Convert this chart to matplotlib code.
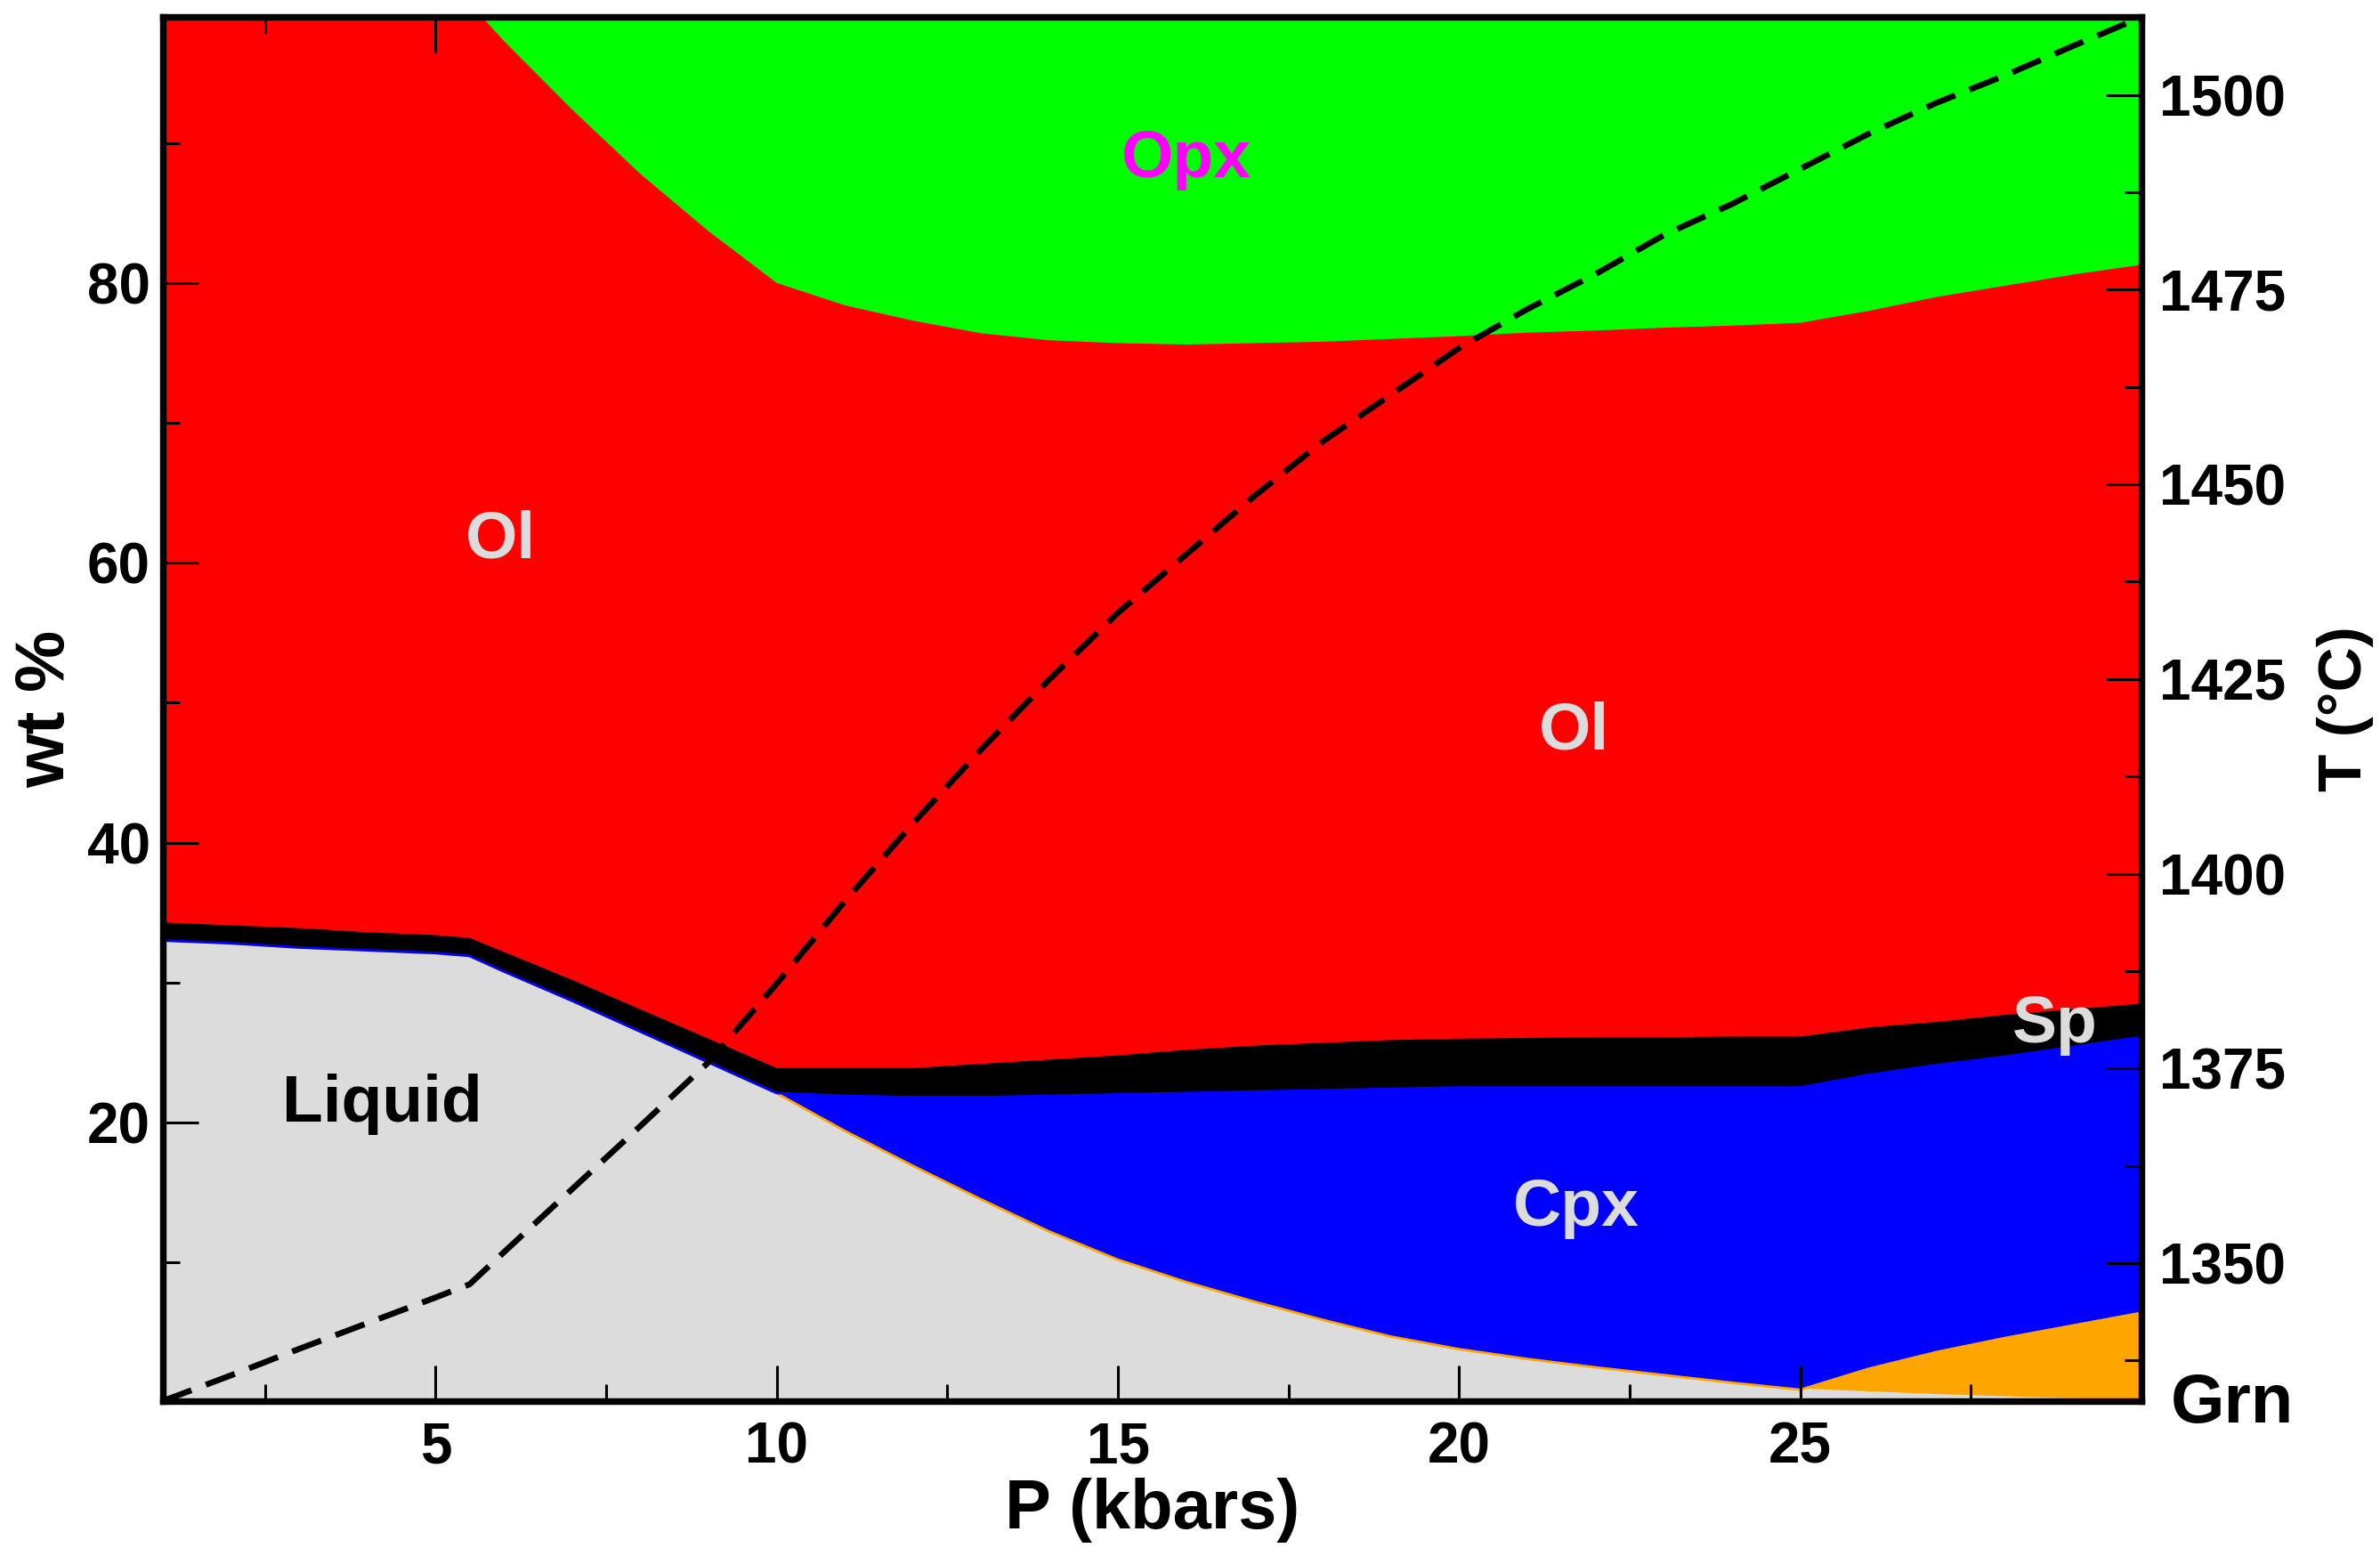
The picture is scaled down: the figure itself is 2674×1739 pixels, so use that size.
import numpy as np
import matplotlib
matplotlib.use("Agg")
import matplotlib.pyplot as plt
from matplotlib.ticker import MultipleLocator, FixedLocator

plt.rcParams['font.family'] = ['Liberation Sans', 'DejaVu Sans']
plt.rcParams['font.weight'] = 'bold'

# Pressure grid (kbar)
pressure = [1, 2, 3, 4, 5, 5.5, 6, 7, 8, 9, 10, 11, 12, 13, 14, 15, 16, 17, 18, 19,
            20, 21, 22, 23, 24, 25, 26, 27, 28, 29, 30]

# Phase proportions (wt %), stacked from bottom to top
liquid = [33.1, 32.9, 32.6, 32.4, 32.2, 32.0, 30.9, 28.8, 26.6, 24.4, 22.2, 19.5, 17.0,
          14.6, 12.3, 10.3, 8.7, 7.3, 6.0, 4.8, 3.9, 3.2, 2.6, 2.05, 1.5, 1.0, 0.8, 0.6,
          0.45, 0.3, 0.15]
garnet = [0, 0, 0, 0, 0, 0, 0, 0, 0, 0, 0, 0, 0, 0, 0, 0, 0, 0, 0, 0,
          0, 0, 0, 0, 0, 0, 1.7, 3.1, 4.25, 5.3, 6.35]
cpx = [0, 0, 0, 0, 0, 0, 0, 0, 0, 0, 0, 2.5, 4.9, 7.3, 9.7, 11.8, 13.5, 15.0, 16.4, 17.7,
       18.7, 19.4, 20.0, 20.55, 21.1, 21.6, 21.0, 20.5, 20.1, 19.9, 19.7]
spinel = [1.2, 1.2, 1.3, 1.2, 1.2, 1.2, 1.3, 1.4, 1.5, 1.6, 1.7, 1.9, 2.0, 2.3, 2.5, 2.7,
          3.0, 3.2, 3.3, 3.4, 3.4, 3.45, 3.5, 3.5, 3.55, 3.55, 3.3, 3.0, 2.9, 2.6, 2.3]
olivine = [65.7, 65.9, 66.1, 66.4, 66.6, 66.8, 65.1, 62.2, 59.7, 57.7, 56.1, 54.5, 53.4,
           52.2, 51.4, 50.9, 50.4, 50.2, 50.1, 50.1, 50.2, 50.4, 50.5, 50.7, 50.8, 51.0,
           51.2, 51.8, 52.1, 52.5, 52.8]
opx = [0, 0, 0, 0, 0, 0, 2.7, 7.6, 12.2, 16.3, 20.0, 21.6, 22.7, 23.6, 24.1, 24.3, 24.4,
       24.3, 24.2, 24.0, 23.8, 23.6, 23.4, 23.2, 23.0, 22.9, 22.0, 21.0, 20.2, 19.4, 18.7]

# Temperature along the path (deg C)
temperature = [1332.3, 1335.6, 1339.0, 1342.3, 1345.6, 1347.3, 1351.4, 1359.5, 1367.6,
               1375.8, 1385.9, 1396.5, 1406.5, 1416.0, 1425.0, 1433.5, 1441.0, 1448.5,
               1455.5, 1461.5, 1467.5, 1472.5, 1477.0, 1482.0, 1486.0, 1490.5, 1495.0,
               1499.0, 1502.5, 1506.3, 1510.0]

phases = [liquid, garnet, cpx, spinel, olivine, opx]
colors = ['#dcdcdc', '#ffa500', '#0000ff', '#000000', '#ff0000', '#00ff00']

fig = plt.figure(figsize=(13.37, 8.695), dpi=200)
ax = fig.add_axes([0.0683, 0.0949, 0.8315, 0.8941])

# Each layer: filled band, then its upper boundary line in the same colour;
# the next band covers the upper half of that line.
p = np.asarray(pressure, dtype=float)
base = np.zeros_like(p)
z = 1.0
for vals, c in zip(phases, colors):
    top = base + np.asarray(vals, dtype=float)
    ax.fill_between(p, base, top, facecolor=c, edgecolor='none', linewidth=0, zorder=z)
    ax.plot(p, top, color=c, linewidth=2.0, solid_joinstyle='round', zorder=z + 0.05)
    base = top
    z += 0.1

ax.set_xlim(1, 30)
ax.set_ylim(0.1, 99.0)

ax.xaxis.set_major_locator(FixedLocator([5, 10, 15, 20, 25]))
ax.xaxis.set_minor_locator(FixedLocator([2.5, 7.5, 12.5, 17.5, 22.5, 27.5]))
ax.yaxis.set_major_locator(FixedLocator([20, 40, 60, 80]))
ax.yaxis.set_minor_locator(FixedLocator([10, 30, 50, 70, 90]))

ax.tick_params(axis='both', which='both', direction='in', top=True, right=False,
               width=1.1, labelsize=23)
ax.tick_params(axis='both', which='major', length=14.5)
ax.tick_params(axis='both', which='minor', length=6.8)
ax.tick_params(axis='x', pad=8)
ax.tick_params(axis='y', pad=5)

for s in ax.spines.values():
    s.set_linewidth(2.6)
    s.set_zorder(5)

ax.set_xlabel('P (kbars)', fontsize=28, fontweight='bold')
ax.xaxis.set_label_coords(0.5, -0.079)
ax.xaxis.label.set_va('center')
ax.set_ylabel('wt %', fontsize=28, fontweight='bold')
ax.yaxis.set_label_coords(-0.059, 0.5)
ax.yaxis.label.set_va('center')

# Temperature on the right-hand axis
ax2 = ax.twinx()
ax2.plot(p, temperature, color='black', linewidth=2.4, linestyle=(0, (5.2, 2.6)))
ax2.set_ylim(1332.3, 1510.0)
ax2.yaxis.set_major_locator(MultipleLocator(25))
ax2.yaxis.set_minor_locator(MultipleLocator(12.5))
ax2.tick_params(axis='y', which='both', direction='in', width=1.1, labelsize=23, pad=7)
ax2.tick_params(axis='y', which='major', length=14.5)
ax2.tick_params(axis='y', which='minor', length=6.8)
for s in ax2.spines.values():
    s.set_linewidth(2.6)
ax2.set_ylabel('T (°C)', fontsize=25, fontweight='bold')
ax2.yaxis.set_label_coords(1.103, 0.5)
ax2.yaxis.label.set_va('center')

# Phase field labels
lab = dict(fontsize=27, fontweight='bold', ha='center', va='center')
ax2.text(5.96, 61.6, 'Ol', color='#dcdcdc', transform=ax.transData, **lab)
ax2.text(21.69, 47.9, 'Ol', color='#dcdcdc', transform=ax.transData, **lab)
ax2.text(16.0, 88.8, 'Opx', color='#ff00ff', transform=ax.transData, **lab)
ax2.text(4.22, 21.3, 'Liquid', color='black', transform=ax.transData, **lab)
ax2.text(21.71, 13.9, 'Cpx', color='#dcdcdc', transform=ax.transData, **lab)
ax2.text(28.73, 27.0, 'Sp', color='#dcdcdc', transform=ax.transData, **lab)
ax2.text(31.33, -0.1, 'Grn', color='black', transform=ax.transData, clip_on=False,
         fontsize=28, fontweight='bold', ha='center', va='center')

fig.savefig('out.png', dpi=200)
